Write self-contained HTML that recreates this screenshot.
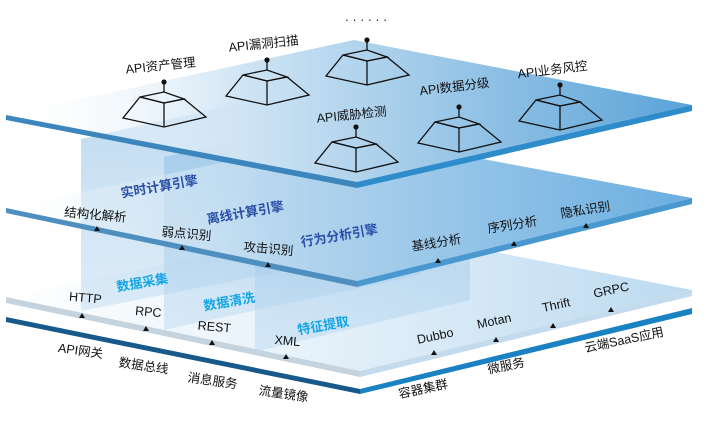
<!DOCTYPE html>
<html><head><meta charset="utf-8"><style>
html,body{margin:0;padding:0;background:#fff;width:708px;height:426px;overflow:hidden}
svg{display:block}
text{font-family:"Liberation Sans","Noto Sans CJK SC",sans-serif;font-size:12.5px;fill:#111}
.b{fill:#2a4fa8;font-size:13px;font-weight:bold}
.c{fill:#12a6e6;font-size:13px;font-weight:bold}
</style></head><body>
<svg width="708" height="426" viewBox="0 0 708 426" xmlns="http://www.w3.org/2000/svg">
<defs>
<linearGradient id="gTop" x1="0" y1="0" x2="1" y2="0">
<stop offset="0" stop-color="#ffffff" stop-opacity="0.1"/>
<stop offset="0.35" stop-color="#cfe4f4"/>
<stop offset="1" stop-color="#5aa3d8"/>
</linearGradient>
<linearGradient id="gMid" x1="0" y1="0" x2="1" y2="0">
<stop offset="0" stop-color="#ffffff" stop-opacity="0.1"/>
<stop offset="0.4" stop-color="#b6d6ee"/>
<stop offset="1" stop-color="#6aaee0"/>
</linearGradient>
<linearGradient id="gLow" x1="0" y1="0" x2="1" y2="0">
<stop offset="0" stop-color="#ffffff"/>
<stop offset="0.5" stop-color="#e2eff9"/>
<stop offset="1" stop-color="#bcdaf0"/>
</linearGradient>
<linearGradient id="gPan" x1="0" y1="0" x2="0" y2="1">
<stop offset="0" stop-color="#7fb6e2" stop-opacity="0.55"/>
<stop offset="1" stop-color="#b9d8f0" stop-opacity="0.45"/>
</linearGradient>
</defs>

<polygon points="6,297 354,225 692,290 360,371" fill="url(#gLow)"/>
<polygon points="6,297 360,371 360,377 6,303" fill="#c4d3de"/>
<polygon points="360,371 692,290 692,296 360,377" fill="#c3dbec"/>

<polygon points="6,317 360,389 360,394 6,322" fill="#17598a"/>
<polygon points="360,389 692,308 692,314 360,394" fill="#1a82c2"/>

<polygon points="81,139 390,70 390,250 81,311" fill="url(#gPan)"/>
<polygon points="164,157 420,100 420,275 164,330" fill="url(#gPan)"/>
<polygon points="255,177 470,130 470,300 255,352" fill="url(#gPan)"/>

<polygon points="6,208 354,135 692,198 357,281" fill="url(#gMid)"/>
<polygon points="6,208 357,281 357,287 6,213" fill="#4f8fbf"/>
<polygon points="357,281 692,198 692,204 357,287" fill="#4a98d0"/>

<polygon points="6,115 354,40 692,105 357,182" fill="url(#gTop)"/>
<polygon points="6,115 357,182 357,188 6,120" fill="#3d86bd"/>
<polygon points="357,182 692,105 692,111 357,188" fill="#2f8ccb"/>

<g fill="none" stroke="#111" stroke-width="1.3">
<g transform="translate(164,82)"><line x1="0" y1="0" x2="0" y2="10"/><polygon points="-24,15 0,10 20,17 0,21"/><polygon points="-41,36 0,45 42,35 20,17 0,21 -24,15"/><line x1="0" y1="21" x2="0" y2="45"/></g>
<g transform="translate(267,60)"><line x1="0" y1="0" x2="0" y2="10"/><polygon points="-24,15 0,10 20,17 0,21"/><polygon points="-41,36 0,45 42,35 20,17 0,21 -24,15"/><line x1="0" y1="21" x2="0" y2="45"/></g>
<g transform="translate(367,40)"><line x1="0" y1="0" x2="0" y2="10"/><polygon points="-24,15 0,10 20,17 0,21"/><polygon points="-41,36 0,45 42,35 20,17 0,21 -24,15"/><line x1="0" y1="21" x2="0" y2="45"/></g>
<g transform="translate(356,127)"><line x1="0" y1="0" x2="0" y2="10"/><polygon points="-24,15 0,10 20,17 0,21"/><polygon points="-41,36 0,45 42,35 20,17 0,21 -24,15"/><line x1="0" y1="21" x2="0" y2="45"/></g>
<g transform="translate(459,107)"><line x1="0" y1="0" x2="0" y2="10"/><polygon points="-24,15 0,10 20,17 0,21"/><polygon points="-41,36 0,45 42,35 20,17 0,21 -24,15"/><line x1="0" y1="21" x2="0" y2="45"/></g>
<g transform="translate(560,85)"><line x1="0" y1="0" x2="0" y2="10"/><polygon points="-24,15 0,10 20,17 0,21"/><polygon points="-41,36 0,45 42,35 20,17 0,21 -24,15"/><line x1="0" y1="21" x2="0" y2="45"/></g>
</g>
<g fill="#111">
<circle cx="164" cy="82" r="2.6"/><circle cx="267" cy="60" r="2.6"/><circle cx="367" cy="40" r="2.6"/>
<circle cx="356" cy="127" r="2.6"/><circle cx="459" cy="107" r="2.6"/><circle cx="560" cy="85" r="2.6"/>
</g>

<g text-anchor="middle">
<text transform="translate(161,70) rotate(-6)">API资产管理</text>
<text transform="translate(264,48) rotate(-6)">API漏洞扫描</text>
<text x="366" y="24">· · · · · ·</text>
<text transform="translate(352,119) rotate(-6)">API威胁检测</text>
<text transform="translate(455,91) rotate(-7)">API数据分级</text>
<text transform="translate(553,74) rotate(-7)">API业务风控</text>

<text transform="translate(95,219) rotate(5)">结构化解析</text>
<text transform="translate(186,238) rotate(5)">弱点识别</text>
<text transform="translate(268,253) rotate(5)">攻击识别</text>
<text transform="translate(437,247) rotate(-9)">基线分析</text>
<text transform="translate(513,229) rotate(-9)">序列分析</text>
<text transform="translate(586,214) rotate(-9)">隐私识别</text>

<text class="b" transform="translate(160,191) rotate(-10)">实时计算引擎</text>
<text class="b" transform="translate(246,217) rotate(-10)">离线计算引擎</text>
<text class="b" transform="translate(340,240) rotate(-10)">行为分析引擎</text>
<text class="c" transform="translate(143,287) rotate(-10)">数据采集</text>
<text class="c" transform="translate(230,306) rotate(-10)">数据清洗</text>
<text class="c" transform="translate(324,330) rotate(-10)">特征提取</text>

<text transform="translate(85,302) rotate(5)">HTTP</text>
<text transform="translate(148,316) rotate(5)">RPC</text>
<text transform="translate(214,331) rotate(5)">REST</text>
<text transform="translate(287,345) rotate(5)">XML</text>
<text transform="translate(436,340) rotate(-12)">Dubbo</text>
<text transform="translate(495,325) rotate(-12)">Motan</text>
<text transform="translate(557,309) rotate(-12)">Thrift</text>
<text transform="translate(612,294) rotate(-12)">GRPC</text>

<text transform="translate(80,355) rotate(8)">API网关</text>
<text transform="translate(143,370) rotate(8)">数据总线</text>
<text transform="translate(212,385) rotate(8)">消息服务</text>
<text transform="translate(283,398) rotate(8)">流量镜像</text>
<text transform="translate(424,393) rotate(-12)">容器集群</text>
<text transform="translate(507,370) rotate(-12)">微服务</text>
<text transform="translate(625,344) rotate(-12)">云端SaaS应用</text>
</g>

<g fill="#111">
<polygon points="97,226 94,231 100,231"/>
<polygon points="182,245 179,250 185,250"/>
<polygon points="268,262 265,267 271,267"/>
<polygon points="438,258 435,263 441,263"/>
<polygon points="514,241 511,246 517,246"/>
<polygon points="586,223 583,228 589,228"/>
<polygon points="82,313 79,318 85,318"/>
<polygon points="146,326 143,331 149,331"/>
<polygon points="212,340 209,345 215,345"/>
<polygon points="286,354 283,359 289,359"/>
<polygon points="434,350 431,355 437,355"/>
<polygon points="496,337 493,342 499,342"/>
<polygon points="553,323 550,328 556,328"/>
<polygon points="611,307 608,312 614,312"/>
</g>
</svg>
</body></html>
